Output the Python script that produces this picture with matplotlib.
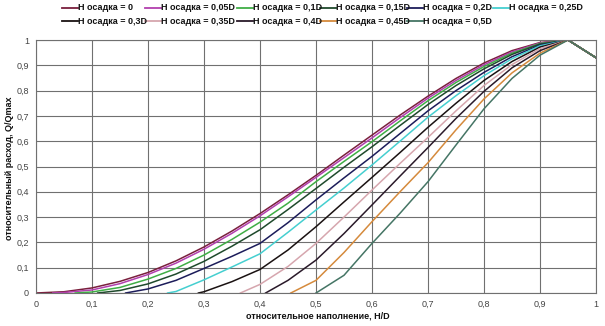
import numpy as np
import matplotlib
matplotlib.use("Agg")
import matplotlib.pyplot as plt
from matplotlib.lines import Line2D

plt.rcParams['font.family'] = ['Liberation Sans Narrow', 'Liberation Sans', 'DejaVu Sans']

# relative filling H/D at which each curve is sampled
x_grid = [0.00, 0.05, 0.10, 0.15, 0.20, 0.25, 0.30, 0.35, 0.40, 0.45, 0.50,
          0.55, 0.60, 0.65, 0.70, 0.75, 0.80, 0.85, 0.90, 0.95, 1.00]

# filling at which the flow starts (Q = 0) for each sediment depth
flow_start = [0.00, 0.03, 0.07, 0.11, 0.16, 0.235, 0.29, 0.365, 0.41, 0.455, 0.50]

# relative discharge Q/Qmax at x_grid (None where the section is below the sediment)
N = None
q_000 = [0, 0.005, 0.020, 0.046, 0.081, 0.127, 0.182, 0.245, 0.314, 0.388, 0.465,
         0.545, 0.624, 0.703, 0.778, 0.848, 0.909, 0.958, 0.990, 1.000, 0.930]
q_005 = [N, 0.002, 0.012, 0.037, 0.073, 0.118, 0.173, 0.236, 0.305, 0.380, 0.457,
         0.535, 0.613, 0.693, 0.770, 0.840, 0.902, 0.953, 0.988, 1.000, 0.930]
q_010 = [N, N, 0.004, 0.022, 0.055, 0.097, 0.150, 0.212, 0.280, 0.355, 0.440,
         0.520, 0.598, 0.680, 0.760, 0.832, 0.895, 0.948, 0.986, 1.000, 0.930]
q_015 = [N, N, N, 0.010, 0.036, 0.075, 0.125, 0.185, 0.250, 0.330, 0.413,
         0.497, 0.578, 0.662, 0.745, 0.820, 0.886, 0.943, 0.984, 1.000, 0.930]
q_020 = [N, N, N, N, 0.016, 0.050, 0.097, 0.145, 0.196, 0.278, 0.368,
         0.455, 0.540, 0.630, 0.720, 0.800, 0.872, 0.934, 0.980, 1.000, 0.930]
q_025 = [N, N, N, N, N, 0.006, 0.052, 0.103, 0.155, 0.240, 0.328,
         0.415, 0.506, 0.600, 0.695, 0.780, 0.859, 0.926, 0.977, 1.000, 0.930]
q_030 = [N, N, N, N, N, N, 0.005, 0.045, 0.093, 0.170, 0.262,
         0.360, 0.457, 0.555, 0.655, 0.750, 0.840, 0.915, 0.972, 1.000, 0.930]
q_035 = [N, N, N, N, N, N, N, N, 0.034, 0.105, 0.196,
         0.300, 0.407, 0.512, 0.615, 0.720, 0.820, 0.903, 0.966, 1.000, 0.930]
q_040 = [N, N, N, N, N, N, N, N, N, 0.050, 0.130,
         0.235, 0.348, 0.462, 0.575, 0.690, 0.797, 0.890, 0.958, 1.000, 0.930]
q_045 = [N, N, N, N, N, N, N, N, N, N, 0.050,
         0.160, 0.282, 0.400, 0.515, 0.645, 0.767, 0.870, 0.948, 1.000, 0.930]
q_050 = [N, N, N, N, N, N, N, N, N, N, N,
         0.070, 0.196, 0.315, 0.440, 0.585, 0.728, 0.848, 0.940, 1.000, 0.930]

series = [q_000, q_005, q_010, q_015, q_020, q_025, q_030, q_035, q_040, q_045, q_050]
labels = ["Н осадка = 0", "Н осадка = 0,05D", "Н осадка = 0,1D", "Н осадка = 0,15D",
          "Н осадка = 0,2D", "Н осадка = 0,25D", "Н осадка = 0,3D", "Н осадка = 0,35D",
          "Н осадка = 0,4D", "Н осадка = 0,45D", "Н осадка = 0,5D"]
colors = ["#7a1f3d", "#b23fae", "#3fae45", "#1f4a2c", "#1c1c5a", "#45cfd0",
          "#1a1212", "#d6a6ae", "#2a1a2a", "#d58a3c", "#457565"]

tick_vals = [0.0, 0.1, 0.2, 0.3, 0.4, 0.5, 0.6, 0.7, 0.8, 0.9, 1.0]
tick_text = ["0", "0,1", "0,2", "0,3", "0,4", "0,5", "0,6", "0,7", "0,8", "0,9", "1"]

W, H = 605, 326
fig = plt.figure(figsize=(W / 100, H / 100), dpi=100)
ax = fig.add_axes([36 / W, 1 - 293 / H, 560 / W, 253 / H])

for start, vals, lab, col in zip(flow_start, series, labels, colors):
    pts = [(x, v) for x, v in zip(x_grid, vals) if v is not None and x > start]
    xs = [start] + [p[0] for p in pts]
    ys = [0.0] + [p[1] for p in pts]
    ax.plot(xs, ys, color=col, lw=1.1, solid_joinstyle="round")

ax.set_xlim(0, 1)
ax.set_ylim(0, 1)
ax.set_xticks(tick_vals)
ax.set_yticks(tick_vals)
ax.set_xticklabels(tick_text)
ax.set_yticklabels(tick_text)
ax.tick_params(labelsize=6.5, colors="#444444", length=0, pad=5)
ax.grid(True, color="#707070", lw=0.8)
ax.set_axisbelow(True)
for sp in ax.spines.values():
    sp.set_color("#707070")
    sp.set_linewidth(0.8)

fig.text(318 / W, 1 - 316 / H, "относительное наполнение, Н/D", fontsize=6.5,
         fontweight="bold", ha="center", va="center", color="#111111")
fig.text(10 / W, 1 - 168 / H, "относительный расход, Q/Qmax", fontsize=6.5,
         fontweight="bold", ha="center", va="center", rotation=90, color="#111111")

# legend: six columns, filled row by row
col_px = [62, 145, 237, 320, 407, 493]
row_px = [8, 21]
for i, (lab, col) in enumerate(zip(labels, colors)):
    r, c = divmod(i, 6)
    x0, y0 = col_px[c], row_px[r]
    fig.add_artist(Line2D([x0 / W, (x0 + 16) / W], [1 - y0 / H, 1 - y0 / H],
                          color=col, lw=1.3, transform=fig.transFigure))
    fig.text((x0 + 16) / W, 1 - y0 / H, lab, fontsize=6.5, fontweight="bold",
             ha="left", va="center", color="#111111")

fig.savefig("out.png", dpi=100)
